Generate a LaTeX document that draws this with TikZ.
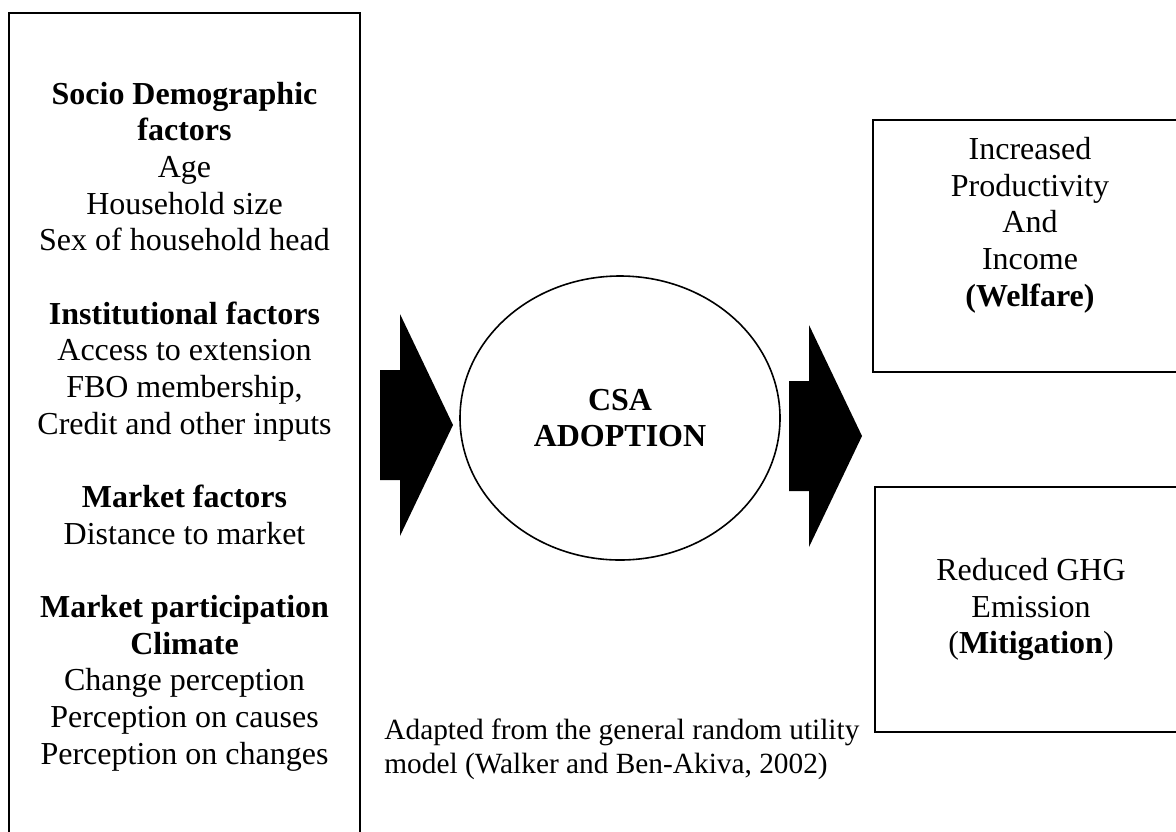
\documentclass[tikz,border=0pt]{standalone}
\usepackage{fontspec}
\setmainfont{Liberation Serif}
\usetikzlibrary{shapes.geometric,positioning}

\tikzset{
	bodytext/.style={font=\fontsize{16pt}{18.33pt}\selectfont},
	factorbox/.style={draw, line width=1.2pt, align=center, inner sep=0pt, bodytext},
	outbox/.style={draw, line width=1.2pt, align=center, inner sep=0pt, bodytext},
	csanode/.style={draw, ellipse, line width=0.8pt, align=center, inner sep=0pt,
		font=\fontsize{16pt}{18.33pt}\selectfont\bfseries},
	blockarrow/.style={fill=black},
	srcnote/.style={align=left, inner sep=0pt, anchor=west,
		font=\fontsize{14.67pt}{16.8pt}\selectfont}
}

\begin{document}
\begin{tikzpicture}[x=0.5pt, y=-0.5pt]

		\clip (0,0) rectangle (1176,831);

		% Factores (caja izquierda)
		\node[factorbox, minimum width=175.5pt, minimum height=413.5pt] (factors) at (184.5,426.5)
			{\textbf{Socio Demographic}\\\textbf{factors}\\Age\\Household size\\Sex of household head\\[18.33pt]
			 \textbf{Institutional factors}\\Access to extension\\FBO membership,\\Credit and other inputs\\[18.33pt]
			 \textbf{Market factors}\\Distance to market\\[18.33pt]
			 \textbf{Market participation}\\\textbf{Climate}\\Change perception\\Perception on causes\\Perception on changes};

		% Adopcion
		\node[csanode, minimum width=160pt, minimum height=142pt] (csa) at (620,418) {CSA\\ADOPTION};

		% Resultados
		\node[outbox, minimum width=157pt, minimum height=126pt] (welfbox) at (1030,246) {};
		\node[bodytext, align=center, inner sep=0pt] (welf) at (1030,225)
			{Increased\\Productivity\\And\\Income\\\textbf{(Welfare)}};
		\node[outbox, minimum width=156pt, minimum height=122.5pt] (mitig) at (1031,609.5)
			{Reduced GHG\\Emission\\(\textbf{Mitigation})};

		% Flechas gruesas
		\foreach \x/\y in {380/425, 789/436}{
			\fill[blockarrow] (\x,\y-55) -- ++(20,0) -- ++(0,-56) -- (\x+73,\y)
				-- (\x+20,\y+111) -- ++(0,-56) -- (\x,\y+55) -- cycle;
		}

		% Fuente
		\node[srcnote] (src) at (384,749)
			{Adapted from the general random utility\\model (Walker and Ben-Akiva, 2002)};

	\end{tikzpicture}
\end{document}
